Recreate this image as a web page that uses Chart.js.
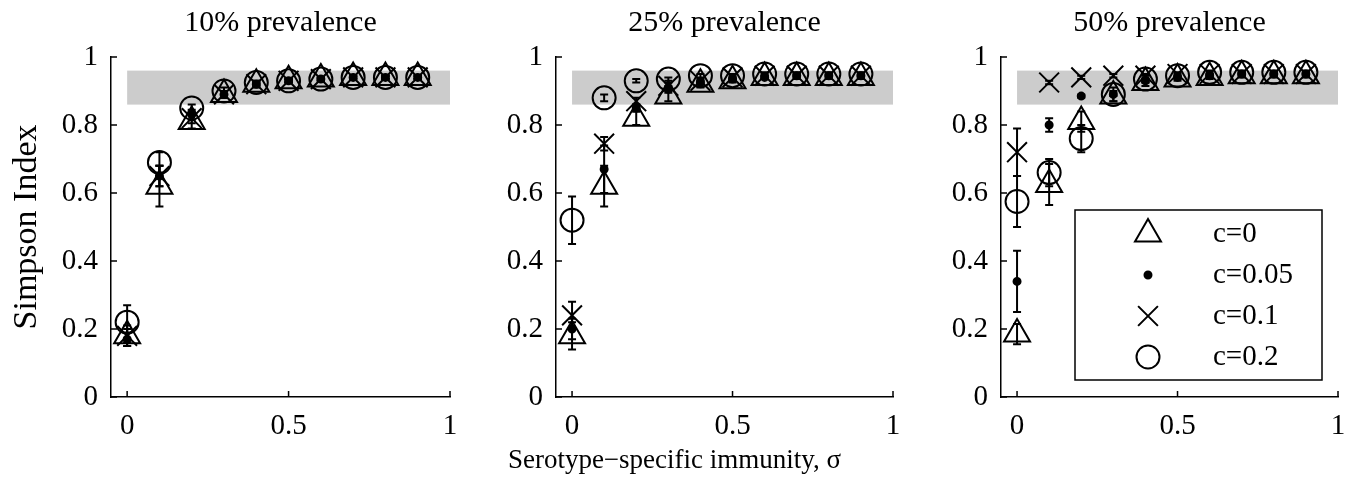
<!DOCTYPE html>
<html>
<head>
<meta charset="utf-8">
<script src="https://cdn.jsdelivr.net/npm/chart.js@4.4.1/dist/chart.umd.min.js"></script>
<style>
  body { margin: 0; background: #fff; }
  #wrap { position: relative; width: 1358px; height: 487px; }
  canvas { position: absolute; top: 0; }
</style>
</head>
<body>
<div id="wrap">
  <canvas id="p10" width="470" height="487" style="left:0px"></canvas>
  <canvas id="p25" width="445" height="487" style="left:470px"></canvas>
  <canvas id="p50" width="443" height="487" style="left:915px"></canvas>
</div>
<script>
// serotype-specific immunity values on the x axis
const sigma = [0, 0.1, 0.2, 0.3, 0.4, 0.5, 0.6, 0.7, 0.8, 0.9];
const xTicks = [0, 0.5, 1];
const yTicks = [0, 0.2, 0.4, 0.6, 0.8, 1];
const band = [0.86, 0.96];   // grey reference band
const seriesLabels = ["c=0", "c=0.05", "c=0.1", "c=0.2"];
const panelTitles = ["10% prevalence", "25% prevalence", "50% prevalence"];
const xTitle = "Serotype\u2212specific immunity, \u03c3";
const yTitle = "Simpson Index";

// 10% prevalence
const tri10 = [0.18, 0.62, 0.81, 0.89, 0.92, 0.93, 0.935, 0.94, 0.94, 0.94];
const dot10 = [0.17, 0.65, 0.83, 0.89, 0.92, 0.93, 0.935, 0.94, 0.94, 0.94];
const x10   = [0.18, 0.65, 0.82, 0.89, 0.92, 0.93, 0.935, 0.94, 0.94, 0.94];
const cir10 = [0.22, 0.69, 0.85, 0.90, 0.925, 0.93, 0.935, 0.94, 0.94, 0.94];
const triErr10 = [0.03, 0.06, 0.02, 0.01, 0.01, 0.005, 0.005, 0.005, 0.005, 0.005];
const dotErr10 = [0.02, 0.03, 0.015, 0.01, 0.005, 0.005, 0.005, 0.005, 0.005, 0.005];
const xErr10   = [0.02, 0.03, 0.015, 0.01, 0.005, 0.005, 0.005, 0.005, 0.005, 0.005];
const cirErr10 = [0.05, 0.03, 0.01, 0.01, 0.005, 0.005, 0.005, 0.005, 0.005, 0.005];

// 25% prevalence
const tri25 = [0.18, 0.62, 0.82, 0.885, 0.92, 0.93, 0.94, 0.94, 0.94, 0.94];
const dot25 = [0.20, 0.67, 0.85, 0.905, 0.925, 0.935, 0.94, 0.945, 0.945, 0.945];
const x25   = [0.24, 0.745, 0.87, 0.915, 0.93, 0.94, 0.945, 0.945, 0.945, 0.945];
const cir25 = [0.52, 0.88, 0.93, 0.935, 0.945, 0.945, 0.95, 0.95, 0.95, 0.95];
const triErr25 = [0.04, 0.06, 0.02, 0.015, 0.01, 0.005, 0.005, 0.005, 0.005, 0.005];
const dotErr25 = [0.03, 0.07, 0.01, 0.01, 0.005, 0.005, 0.005, 0.005, 0.005, 0.005];
const xErr25   = [0.04, 0.02, 0.01, 0.01, 0.005, 0.005, 0.005, 0.005, 0.005, 0.005];
const cirErr25 = [0.07, 0.01, 0.005, 0.005, 0.005, 0.005, 0.005, 0.005, 0.005, 0.005];

// 50% prevalence
const tri50 = [0.185, 0.625, 0.81, 0.885, 0.925, 0.935, 0.94, 0.945, 0.945, 0.945];
const dot50 = [0.34, 0.80, 0.885, 0.89, 0.93, 0.94, 0.945, 0.95, 0.95, 0.95];
const x50   = [0.72, 0.925, 0.94, 0.945, 0.945, 0.95, 0.95, 0.95, 0.95, 0.95];
const cir50 = [0.575, 0.66, 0.76, 0.89, 0.935, 0.945, 0.955, 0.955, 0.955, 0.955];
const triErr50 = [0.03, 0.06, 0.03, 0.015, 0.01, 0.005, 0.005, 0.005, 0.005, 0.005];
const dotErr50 = [0.09, 0.02, 0.005, 0.005, 0.005, 0.005, 0.005, 0.005, 0.005, 0.005];
const xErr50   = [0.07, 0.005, 0.005, 0.005, 0.005, 0.005, 0.005, 0.005, 0.005, 0.005];
const cirErr50 = [0.075, 0.04, 0.04, 0.02, 0.01, 0.005, 0.005, 0.005, 0.005, 0.005];

const FONT = "'Liberation Serif', 'Times New Roman', serif";
Chart.defaults.font.family = FONT;
Chart.defaults.color = "#000";

const markers = [
    { pointStyle: "triangle", radius: 15, bg: "rgba(0,0,0,0)" },
    { pointStyle: "circle", radius: 3.5, bg: "#000" },
    { pointStyle: "crossRot", radius: 14, bg: "rgba(0,0,0,0)" },
    { pointStyle: "circle", radius: 11.5, bg: "rgba(0,0,0,0)" }
];

function toPoints(vals) {
    return vals.map((v, i) => ({ x: sigma[i], y: v }));
}

function makeDatasets(series, errors) {
    return series.map((vals, i) => ({
        label: seriesLabels[i],
        data: toPoints(vals),
        errors: errors[i],
        pointStyle: markers[i].pointStyle,
        pointRadius: markers[i].radius,
        pointBackgroundColor: markers[i].bg,
        pointBorderColor: "#000",
        pointBorderWidth: 2,
        showLine: false
    }));
}

// grey band behind the markers
const bandPlugin = {
    id: "band",
    beforeDatasetsDraw(chart) {
        const { ctx, scales: { x, y } } = chart;
        const x0 = x.getPixelForValue(0);
        const x1 = x.getPixelForValue(1);
        const yTop = y.getPixelForValue(band[1]);
        const yBot = y.getPixelForValue(band[0]);
        ctx.save();
        ctx.fillStyle = "#cccccc";
        ctx.fillRect(x0, yTop, x1 - x0, yBot - yTop);
        ctx.restore();
    }
};

const errorBarPlugin = {
    id: "errorBars",
    afterDatasetsDraw(chart) {
        const { ctx, scales: { x, y } } = chart;
        ctx.save();
        ctx.strokeStyle = "#000";
        ctx.lineWidth = 2;
        chart.data.datasets.forEach(ds => {
            ds.data.forEach((p, j) => {
                const e = ds.errors[j];
                const px = x.getPixelForValue(p.x);
                const top = y.getPixelForValue(p.y + e);
                const bot = y.getPixelForValue(p.y - e);
                ctx.beginPath();
                ctx.moveTo(px, top); ctx.lineTo(px, bot);
                ctx.moveTo(px - 4, top); ctx.lineTo(px + 4, top);
                ctx.moveTo(px - 4, bot); ctx.lineTo(px + 4, bot);
                ctx.stroke();
            });
        });
        ctx.restore();
    }
};

// matlab style ticks pointing into the plot
const innerTicks = {
    id: "innerTicks",
    afterDraw(chart) {
        const { ctx, chartArea, scales: { x, y } } = chart;
        ctx.save();
        ctx.strokeStyle = "#000";
        ctx.lineWidth = 1.5;
        ctx.beginPath();
        yTicks.forEach(v => {
            const py = y.getPixelForValue(v);
            ctx.moveTo(chartArea.left, py);
            ctx.lineTo(chartArea.left + 6, py);
        });
        xTicks.forEach(v => {
            const px = x.getPixelForValue(v);
            ctx.moveTo(px, chartArea.bottom);
            ctx.lineTo(px, chartArea.bottom - 6);
        });
        ctx.stroke();
        ctx.restore();
    }
};

// panel title centred over the axes, not the canvas
const panelTitle = {
    id: "panelTitle",
    afterDraw(chart, args, opts) {
        const { ctx, chartArea } = chart;
        ctx.save();
        ctx.fillStyle = "#000";
        ctx.font = "30px " + FONT;
        ctx.textAlign = "center";
        ctx.textBaseline = "middle";
        ctx.fillText(opts.text, (chartArea.left + chartArea.right) / 2, 23);
        ctx.restore();
    }
};

function drawMarker(ctx, ds, cx, cy) {
    ctx.fillStyle = ds.pointBackgroundColor;
    ctx.strokeStyle = ds.pointBorderColor;
    ctx.lineWidth = ds.pointBorderWidth;
    Chart.helpers.drawPoint(ctx, {
        pointStyle: ds.pointStyle,
        radius: ds.pointRadius,
        borderWidth: ds.pointBorderWidth,
        rotation: 0
    }, cx, cy);
}

const legendBox = {
    id: "legendBox",
    afterDraw(chart) {
        const { ctx, chartArea } = chart;
        const w = 247, h = 170;
        const left = chartArea.right - 16 - w;
        const top = chartArea.bottom - 17 - h;
        ctx.save();
        ctx.fillStyle = "#fff";
        ctx.fillRect(left, top, w, h);
        ctx.strokeStyle = "#000";
        ctx.lineWidth = 1.5;
        ctx.strokeRect(left, top, w, h);
        chart.data.datasets.forEach((ds, i) => {
            const cy = top + 24 + i * 41;
            drawMarker(ctx, ds, left + 73, cy);
            ctx.fillStyle = "#000";
            ctx.font = "29px " + FONT;
            ctx.textAlign = "left";
            ctx.textBaseline = "middle";
            ctx.fillText(ds.label, left + 138, cy);
        });
        ctx.restore();
    }
};

const xTitleText = {
    id: "xTitleText",
    afterDraw(chart) {
        const { ctx, chartArea } = chart;
        ctx.save();
        ctx.fillStyle = "#000";
        ctx.font = "27px " + FONT;
        ctx.textAlign = "center";
        ctx.textBaseline = "middle";
        ctx.fillText(xTitle, (chartArea.left + chartArea.right) / 2 - 50, chartArea.bottom + 64);
        ctx.restore();
    }
};

function makePanel(id, title, datasets, yWidth, rightPad, extra, showYTitle) {
    return new Chart(document.getElementById(id), {
        type: "scatter",
        data: { datasets: datasets },
        plugins: [bandPlugin, errorBarPlugin, innerTicks, panelTitle].concat(extra),
        options: {
            responsive: false,
            animation: false,
            events: [],
            layout: { padding: { left: 0, right: rightPad, top: 57, bottom: 0 } },
            plugins: {
                legend: { display: false },
                tooltip: { enabled: false },
                title: { display: false },
                panelTitle: { text: title }
            },
            scales: {
                x: {
                    type: "linear",
                    min: -0.05,
                    max: 1,
                    afterBuildTicks: s => { s.ticks = xTicks.map(v => ({ value: v })); },
                    afterFit: s => { s.height = 90; },
                    ticks: { font: { size: 29 }, color: "#000", padding: 12, maxRotation: 0,
                             callback: v => String(v) },
                    grid: { display: false, drawTicks: false },
                    border: { display: true, color: "#000", width: 1.5 }
                },
                y: {
                    type: "linear",
                    min: 0,
                    max: 1,
                    afterBuildTicks: s => { s.ticks = yTicks.map(v => ({ value: v })); },
                    afterFit: s => { s.width = yWidth; },
                    ticks: { font: { size: 29 }, color: "#000", padding: 13,
                             callback: v => String(v) },
                    grid: { display: false, drawTicks: false },
                    border: { display: true, color: "#000", width: 1.5 },
                    title: {
                        display: showYTitle,
                        text: yTitle,
                        color: "#000",
                        font: { size: 34, lineHeight: 1.2 },
                        padding: { top: 7, bottom: 0 }
                    }
                }
            }
        }
    });
}

makePanel("p10", panelTitles[0],
    makeDatasets([tri10, dot10, x10, cir10], [triErr10, dotErr10, xErr10, cirErr10]),
    111, 20, [], true);
makePanel("p25", panelTitles[1],
    makeDatasets([tri25, dot25, x25, cir25], [triErr25, dotErr25, xErr25, cirErr25]),
    86, 22, [xTitleText], false);
makePanel("p50", panelTitles[2],
    makeDatasets([tri50, dot50, x50, cir50], [triErr50, dotErr50, xErr50, cirErr50]),
    86, 20, [legendBox], false);
</script>
</body>
</html>
